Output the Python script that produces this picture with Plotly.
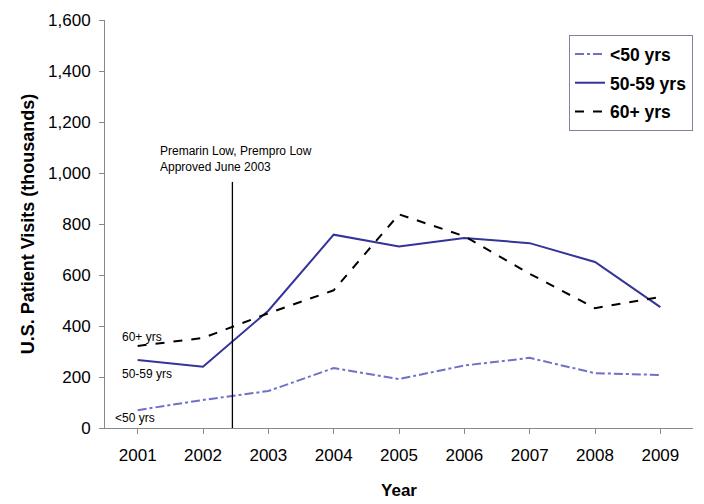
import plotly.graph_objects as go

years = [2001, 2002, 2003, 2004, 2005, 2006, 2007, 2008, 2009]
under50 = [70, 110, 145, 235, 192, 245, 275, 215, 208]
age50_59 = [267, 240, 460, 758, 712, 745, 725, 651, 474]
age60plus = [322, 353, 450, 540, 838, 752, 605, 470, 514]

approval_x = 2002.45
approval_top = 965

fig = go.Figure()
fig.add_trace(go.Scatter(x=years, y=under50, mode="lines", name="<50 yrs", legendgroup="a",
                         line=dict(color="#7070c8", width=2, dash="dashdot")))
fig.add_trace(go.Scatter(x=years, y=age50_59, mode="lines", name="50-59 yrs", legendgroup="b",
                         line=dict(color="#333399", width=2, dash="solid")))
fig.add_trace(go.Scatter(x=years, y=age60plus, mode="lines", name="60+ yrs", legendgroup="c",
                         line=dict(color="#000000", width=2, dash="dash")))

fig.add_shape(type="line", x0=approval_x, x1=approval_x, y0=0, y1=approval_top,
              xref="x", yref="y", line=dict(color="black", width=1.3))

fig.add_annotation(x=2001.31, y=990, xref="x", yref="y", xanchor="left", yanchor="bottom",
                   text="Premarin Low, Prempro Low<br>Approved June 2003", showarrow=False,
                   align="left", font=dict(size=12, color="black", family="Arial"))
fig.add_annotation(x=2000.73, y=355, xref="x", yref="y", xanchor="left", text="60+ yrs",
                   showarrow=False, font=dict(size=12, color="black", family="Arial"))
fig.add_annotation(x=2000.73, y=212, xref="x", yref="y", xanchor="left", text="50-59 yrs",
                   showarrow=False, font=dict(size=12, color="black", family="Arial"))
fig.add_annotation(x=2000.62, y=38, xref="x", yref="y", xanchor="left", text="<50 yrs",
                   showarrow=False, font=dict(size=12, color="black", family="Arial"))

fig.update_layout(
    width=696, height=496,
    margin=dict(l=97, r=11, t=12, b=76, autoexpand=False),
    paper_bgcolor="white", plot_bgcolor="white",
    font=dict(family="Arial", size=17, color="black"),
    showlegend=True,
    legend=dict(x=1, y=0.963, xanchor="right", yanchor="top",
                bordercolor="#8080a0", borderwidth=1, bgcolor="white",
                font=dict(size=17.5, color="black", family="Arial", weight="bold"),
                itemwidth=30, tracegroupgap=3, traceorder="grouped"),
    xaxis=dict(range=[2000.5, 2009.5], tickvals=years, ticktext=[str(y) for y in years],
               showgrid=False, zeroline=False, showline=True, linecolor="#888888",
               ticks="outside", ticklen=5, tickcolor="#888888", ticklabelstandoff=7,
               automargin=False,
               title=dict(text="<b>Year</b>", font=dict(size=17), standoff=19)),
    yaxis=dict(range=[0, 1600], tickvals=[0, 200, 400, 600, 800, 1000, 1200, 1400, 1600],
               tickformat=",", showgrid=False, zeroline=False, showline=True, linecolor="#888888",
               ticks="outside", ticklen=5, tickcolor="#888888", ticklabelstandoff=5,
               automargin=False,
               title=dict(text="<b>U.S. Patient Visits (thousands)</b>", font=dict(size=18), standoff=8)),
)

fig.write_html("out.html")
